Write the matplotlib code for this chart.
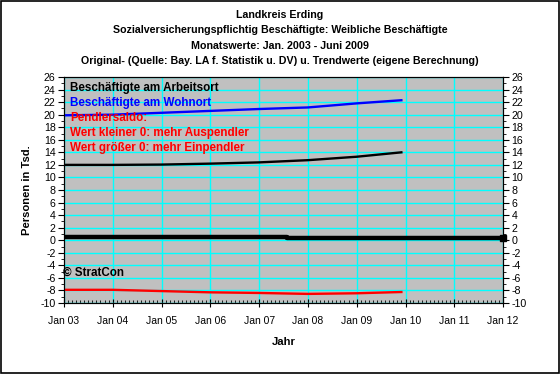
#!/usr/bin/env python3
"""Pendler chart Landkreis Erding: Weibliche Beschaeftigte (Trendwerte)."""
import matplotlib
matplotlib.use("Agg")
import matplotlib.pyplot as plt
import matplotlib.dates as mdates
from matplotlib.ticker import MultipleLocator
import pandas as pd

plt.rcParams["font.family"] = ["Liberation Sans", "DejaVu Sans"]
plt.rcParams["axes.unicode_minus"] = False

# trend values in Tsd.
trend_dates = ["2003-01-01", "2004-01-01", "2005-01-01", "2006-01-01",
               "2007-01-01", "2008-01-01", "2009-01-01", "2009-12-01"]
wohnort = [19.9, 20.0, 20.3, 20.6, 20.9, 21.15, 21.8, 22.3]
arbeitsort = [12.0, 12.0, 12.05, 12.2, 12.4, 12.75, 13.3, 14.0]
saldo = [-7.9, -7.9, -8.1, -8.3, -8.4, -8.55, -8.45, -8.25]

# thick black line close to zero
base_dates = ["2003-01-01", "2007-08-01", "2007-08-01", "2012-01-01"]
base_vals = [0.45, 0.45, 0.3, 0.3]

year_ticks = [f"{y}-01-01" for y in range(2003, 2013)]
year_labels = ["Jan 03", "Jan 04", "Jan 05", "Jan 06", "Jan 07",
               "Jan 08", "Jan 09", "Jan 10", "Jan 11", "Jan 12"]

titles = ["Landkreis Erding",
          "Sozialversicherungspflichtig Beschäftigte: Weibliche Beschäftigte",
          "Monatswerte: Jan. 2003 - Juni 2009",
          "Original- (Quelle: Bay. LA f. Statistik u. DV) u. Trendwerte (eigene Berechnung)"]

legend_items = [("Beschäftigte am Arbeitsort", "black"),
                ("Beschäftigte am Wohnort", "#0000ff"),
                ("Pendlersaldo:", "#ff0000"),
                ("Wert kleiner 0: mehr Auspendler", "#ff0000"),
                ("Wert größer 0: mehr Einpendler", "#ff0000")]

fig = plt.figure(figsize=(5.6, 3.74), dpi=100)
fig.patch.set_facecolor("white")
ax = fig.add_axes([64 / 560, 1 - 303 / 374, 439 / 560, 226 / 374])
ax.set_facecolor("#c0c0c0")

td = pd.to_datetime(trend_dates)
ax.plot(td, wohnort, color="#0000ff", lw=1.7, zorder=5)
ax.plot(td, arbeitsort, color="black", lw=1.7, zorder=5)
ax.plot(td, saldo, color="#ff0000", lw=1.7, zorder=5)
bd = pd.to_datetime(base_dates)
ax.plot(bd, base_vals, color="black", lw=3.2, zorder=6)
ax.plot(bd[-1:], base_vals[-1:], "s", color="black", ms=4, zorder=7, clip_on=False)

ticks = pd.to_datetime(year_ticks)
ax.set_xlim(ticks[0], ticks[-1])
ax.set_xticks(ticks)
ax.set_xticklabels(year_labels)
ax.xaxis.set_minor_locator(mdates.MonthLocator())
ax.set_ylim(-10, 26)
ax.yaxis.set_major_locator(MultipleLocator(2))
ax.yaxis.set_minor_locator(MultipleLocator(1))
ax.grid(True, which="major", color="#00ffff", lw=1)
ax.set_axisbelow(True)

for s in ax.spines.values():
    s.set_color("black")
    s.set_linewidth(0.8)
ax.tick_params(axis="y", which="major", length=4, width=0.8, labelsize=7.7, pad=2)
ax.tick_params(axis="y", which="minor", length=2, width=0.6)
ax.tick_params(axis="x", which="major", length=6, width=0.8, labelsize=7.5,
               direction="inout", pad=6)
ax.tick_params(axis="x", which="minor", length=2, width=0.6, direction="in")

ax2 = ax.twinx()
ax2.set_ylim(-10, 26)
ax2.yaxis.set_major_locator(MultipleLocator(2))
ax2.yaxis.set_minor_locator(MultipleLocator(1))
ax2.tick_params(which="major", length=4, width=0.8, labelsize=7.7, pad=2)
ax2.tick_params(which="minor", length=2, width=0.6)

ax.set_ylabel("Personen in Tsd.", fontsize=8.1, fontweight="bold", labelpad=6)
ax.set_xlabel("Jahr", fontsize=8.1, fontweight="bold", labelpad=8)

for i, t in enumerate(titles):
    fig.text(0.5, 1 - (15 + 15.3 * i) / 374, t, ha="center", va="center",
             fontsize=7.7, fontweight="bold")

for i, (t, c) in enumerate(legend_items):
    fig.text(70 / 560, 1 - (88 + 15 * i) / 374, t, ha="left", va="center",
             fontsize=8.4, fontweight="bold", color=c)

fig.text(63 / 560, 1 - 273 / 374, "© StratCon", ha="left", va="center",
         fontsize=8.4, fontweight="bold")

fig.add_artist(plt.Rectangle((0.001, 0.002), 0.997, 0.996, transform=fig.transFigure,
                             fill=False, edgecolor="black", lw=1.2))

fig.savefig("out.png", dpi=100)
